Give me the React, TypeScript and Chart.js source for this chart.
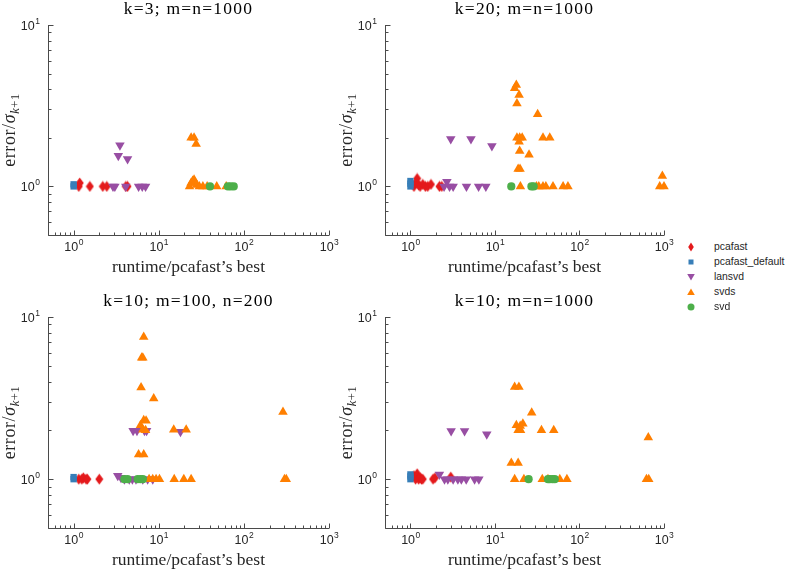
import React, { useEffect, useRef } from 'react';
import { Chart, registerables } from 'chart.js';
Chart.register(...registerables);

type Pt = [number, number];

const seriesNames = ['pcafast', 'pcafast_default', 'lansvd', 'svds', 'svd'];
const seriesColors = ['#E41A1C', '#377EB8', '#984EA3', '#FF7F00', '#4DAF4A'];
const panelTitles = ['k=3; m=n=1000', 'k=20; m=n=1000', 'k=10; m=100, n=200', 'k=10; m=n=1000'];
const xAxisTitle = 'runtime/pcafast\u2019s best';
const xMajorTicks = [1, 10, 100, 1000];
const xTickExponents = ['0', '1', '2', '3'];
const yMajorTicks = [1, 10];
const yTickExponents = ['0', '1'];
const xRange = [0.5, 1000];
const yRange = [0.5, 10];

// Panel 1: k=3; m=n=1000
const k3_pcafast: Pt[] = [[1.15, 1.0], [1.18, 1.05], [1.55, 1.0], [2.2, 1.0], [2.45, 1.0], [4.1, 1.0], [4.3, 1.0]];
const k3_default: Pt[] = [[1.0, 1.0], [1.0, 1.03]];
const k3_lansvd: Pt[] = [[2.9, 1.0], [3.05, 1.0], [3.5, 1.8], [3.35, 1.55], [4.3, 1.48], [4.1, 1.0], [5.8, 1.0], [6.4, 1.0], [7.0, 1.0]];
const k3_svds: Pt[] = [[24, 2.0], [26, 2.0], [27.5, 1.83], [23, 1.0], [24, 1.05], [25, 1.08], [26, 1.1], [27, 1.05], [28, 1.02], [30, 1.0], [33, 1.0], [37, 1.0], [48, 1.0], [62, 1.0]];
const k3_svd: Pt[] = [[40, 1.0], [65, 1.0], [70, 1.0], [76, 1.0]];

// Panel 2: k=20; m=n=1000
const k20_pcafast: Pt[] = [[1.1, 1.0], [1.15, 1.05], [1.2, 1.12], [1.25, 1.02], [1.3, 1.0], [1.4, 1.03], [1.5, 1.0], [1.6, 1.0], [1.75, 1.03], [2.2, 1.0], [2.35, 1.0]];
const k20_default: Pt[] = [[1.0, 1.0], [1.0, 1.04], [1.0, 1.08]];
const k20_lansvd: Pt[] = [[3.0, 1.97], [5.2, 1.97], [9.2, 1.78], [2.5, 1.0], [2.7, 1.07], [2.9, 1.0], [3.2, 1.0], [4.6, 1.0], [6.4, 1.0], [7.8, 1.0]];
const k20_svds: Pt[] = [[17.1, 4.06], [17.9, 4.25], [19.3, 3.69], [18.2, 3.26], [32, 2.8], [18.2, 2.0], [19.6, 2.0], [21, 2.0], [19.3, 1.89], [19.6, 1.66], [25.3, 1.57], [18.8, 1.28], [19.8, 1.28], [37, 2.0], [44.5, 2.0], [20, 1.0], [31, 1.0], [33, 1.0], [37, 1.0], [40, 1.0], [48.6, 1.0], [64, 1.0], [73, 1.0], [956, 1.16], [890, 1.0], [1000, 1.0]];
const k20_svd: Pt[] = [[15.6, 1.0], [27, 1.0], [28.7, 1.0]];

// Panel 3: k=10; m=100, n=200
const k10s_pcafast: Pt[] = [[1.15, 1.0], [1.25, 1.0], [1.3, 1.02], [1.4, 1.0], [1.45, 1.0], [2.0, 1.0]];
const k10s_default: Pt[] = [[1.0, 1.0], [1.0, 1.03]];
const k10s_lansvd: Pt[] = [[3.3, 1.05], [3.6, 1.02], [3.95, 1.0], [4.5, 1.0], [4.9, 1.0], [5.4, 1.0], [6.5, 1.0], [7.4, 1.0], [8.5, 1.0], [5.0, 1.99], [5.55, 1.99], [6.8, 1.99], [7.2, 1.99], [18, 1.96]];
const k10s_svds: Pt[] = [[6.66, 7.53], [6.3, 5.6], [6.5, 5.6], [6.2, 3.67], [8.73, 3.14], [6.66, 2.31], [7.1, 2.29], [6.1, 2.15], [6.5, 2.02], [7.0, 2.0], [5.8, 1.42], [6.66, 1.42], [15, 2.02], [21, 2.02], [288, 2.6], [7.7, 1.0], [8.5, 1.0], [9.3, 1.0], [10.2, 1.0], [15.2, 1.0], [19.7, 1.0], [24, 1.0], [300, 1.0], [315, 1.0]];
const k10s_svd: Pt[] = [[3.95, 1.0], [4.3, 1.0], [5.65, 1.0], [6.1, 1.0], [6.5, 1.0]];

// Panel 4: k=10; m=n=1000
const k10_pcafast: Pt[] = [[1.1, 1.05], [1.15, 1.0], [1.2, 1.08], [1.25, 1.0], [1.3, 1.02], [1.35, 1.0], [1.4, 1.0], [1.85, 1.0], [1.95, 1.02], [3.0, 1.03]];
const k10_default: Pt[] = [[1.0, 1.0], [1.0, 1.04], [1.0, 1.07]];
const k10_lansvd: Pt[] = [[3.03, 1.98], [4.37, 1.98], [8.0, 1.89], [2.2, 1.07], [2.53, 1.0], [2.77, 1.0], [3.2, 1.0], [3.64, 1.0], [4.0, 1.0], [4.57, 1.0], [5.74, 1.0], [6.45, 1.0]];
const k10_svds: Pt[] = [[17.1, 3.7], [19.2, 3.7], [27.2, 2.57], [17.9, 2.15], [19.9, 2.13], [21.4, 2.2], [18.8, 2.0], [20.1, 2.0], [35.5, 2.0], [49.6, 2.0], [15.6, 1.26], [18.8, 1.26], [652, 1.81], [17.1, 1.0], [22, 1.0], [36.3, 1.0], [42.4, 1.0], [58.5, 1.0], [71, 1.0], [620, 1.0], [660, 1.0]];
const k10_svd: Pt[] = [[25, 1.0], [42.4, 1.0], [44.5, 1.0], [48, 1.0], [51, 1.0]];

const panelData: Pt[][][] = [
  [k3_pcafast, k3_default, k3_lansvd, k3_svds, k3_svd],
  [k20_pcafast, k20_default, k20_lansvd, k20_svds, k20_svd],
  [k10s_pcafast, k10s_default, k10s_lansvd, k10s_svds, k10s_svd],
  [k10_pcafast, k10_default, k10_lansvd, k10_svds, k10_svd],
];

// plot-area boxes in page pixels
const panelBoxes = [
  { l: 48, t: 25, r: 329, b: 235 },
  { l: 385, t: 25, r: 664, b: 235 },
  { l: 48, t: 317, r: 329, b: 528 },
  { l: 385, t: 317, r: 664, b: 528 },
];
const PAD = { left: 48, top: 25, right: 20, bottom: 48 };

const AXIS_COLOR = '#4a4a4a';
const TEXT_COLOR = '#262626';
const SERIF = '"Liberation Serif", "Times New Roman", serif';
const SANS = '"Liberation Sans", Arial, sans-serif';

function minorTicks(lo: number, hi: number): number[] {
  const out: number[] = [];
  for (let d = 0.1; d <= hi; d *= 10) {
    for (let m = 2; m <= 9; m++) {
      const v = +(m * d).toPrecision(6);
      if (v >= lo && v <= hi) out.push(v);
    }
  }
  return out;
}

function makeDiamond(color: string): HTMLCanvasElement {
  const c = document.createElement('canvas');
  c.width = 9;
  c.height = 12;
  const g = c.getContext('2d')!;
  g.fillStyle = color;
  g.beginPath();
  g.moveTo(4.5, 0.5);
  g.lineTo(8.5, 6);
  g.lineTo(4.5, 11.5);
  g.lineTo(0.5, 6);
  g.closePath();
  g.fill();
  return c;
}

function makeAxesPlugin(title: string) {
  return {
    id: 'matlabAxes',
    beforeDatasetsDraw(chart: any) {
      const { ctx, chartArea: a, scales } = chart;
      const xs = scales.x;
      const ys = scales.y;
      ctx.save();
      const L = Math.round(a.left) + 0.5;
      const B = Math.round(a.bottom) + 0.5;
      ctx.strokeStyle = AXIS_COLOR;
      ctx.lineWidth = 1;
      ctx.beginPath();
      ctx.moveTo(L, a.top);
      ctx.lineTo(L, B);
      ctx.lineTo(a.right, B);
      // x ticks (inside)
      for (const v of minorTicks(xRange[0], xRange[1])) {
        const p = Math.round(xs.getPixelForValue(v)) + 0.5;
        ctx.moveTo(p, B);
        ctx.lineTo(p, B - 3);
      }
      for (const v of xMajorTicks) {
        const p = Math.round(xs.getPixelForValue(v)) + 0.5;
        ctx.moveTo(p, B);
        ctx.lineTo(p, B - 5);
      }
      for (const v of minorTicks(yRange[0], yRange[1])) {
        const p = Math.round(ys.getPixelForValue(v)) + 0.5;
        ctx.moveTo(L, p);
        ctx.lineTo(L + 3, p);
      }
      for (const v of yMajorTicks) {
        const p = Math.round(ys.getPixelForValue(v)) + 0.5;
        ctx.moveTo(L, p);
        ctx.lineTo(L + 5, p);
      }
      ctx.stroke();

      // tick labels
      ctx.fillStyle = TEXT_COLOR;
      ctx.textBaseline = 'alphabetic';
      ctx.textAlign = 'left';
      const baseFont = `12.5px ${SANS}`;
      const supFont = `8.5px ${SANS}`;
      xMajorTicks.forEach((v, i) => {
        const p = xs.getPixelForValue(v);
        ctx.font = baseFont;
        const wb = ctx.measureText('10').width;
        ctx.font = supFont;
        const ws = ctx.measureText(xTickExponents[i]).width;
        const x0 = p - (wb + ws) / 2;
        ctx.font = baseFont;
        ctx.fillText('10', x0, a.bottom + 16);
        ctx.font = supFont;
        ctx.fillText(xTickExponents[i], x0 + wb + 0.5, a.bottom + 10);
      });
      yMajorTicks.forEach((v, i) => {
        const p = ys.getPixelForValue(v);
        ctx.font = supFont;
        const ws = ctx.measureText(yTickExponents[i]).width;
        ctx.font = baseFont;
        const wb = ctx.measureText('10').width;
        const right = a.left - 8;
        ctx.fillText('10', right - ws - 0.5 - wb, p + 4.5);
        ctx.font = supFont;
        ctx.fillText(yTickExponents[i], right - ws, p - 1.5);
      });

      // title
      ctx.fillStyle = '#000';
      ctx.font = `17.5px ${SERIF}`;
      (ctx as any).letterSpacing = '1.2px';
      ctx.textAlign = 'center';
      ctx.fillText(title, (a.left + a.right) / 2, a.top - 11);

      // x title
      ctx.fillStyle = TEXT_COLOR;
      (ctx as any).letterSpacing = '0px';
      ctx.font = `17.5px ${SERIF}`;
      ctx.fillText(xAxisTitle, (a.left + a.right) / 2, a.bottom + 37);

      // y title: error/σ_{k+1}
      const segs = [
        { t: 'error/', f: `18px ${SERIF}`, dy: 0 },
        { t: '\u03C3', f: `italic 18px ${SERIF}`, dy: 0 },
        { t: 'k', f: `italic 12.5px ${SERIF}`, dy: 4 },
        { t: '+1', f: `12.5px ${SERIF}`, dy: 4 },
      ];
      (ctx as any).letterSpacing = '0.6px';
      let total = 0;
      const widths = segs.map((s) => {
        ctx.font = s.f;
        const w = ctx.measureText(s.t).width;
        total += w;
        return w;
      });
      ctx.translate(a.left - 33, (a.top + a.bottom) / 2);
      ctx.rotate(-Math.PI / 2);
      ctx.textAlign = 'left';
      let cx = -total / 2;
      segs.forEach((s, i) => {
        ctx.font = s.f;
        ctx.fillText(s.t, cx, s.dy);
        cx += widths[i];
      });
      ctx.restore();
    },
  };
}

function Panel({ index }: { index: number }) {
  const ref = useRef<HTMLCanvasElement>(null);
  const box = panelBoxes[index];
  const left = box.l - PAD.left;
  const top = box.t - PAD.top;
  const width = box.r - box.l + PAD.left + PAD.right;
  const height = box.b - box.t + PAD.top + PAD.bottom;

  useEffect(() => {
    const canvas = ref.current;
    if (!canvas) return;
    const diamond = makeDiamond(seriesColors[0]);
    const styles: any[] = [diamond, 'rect', 'triangle', 'triangle', 'circle'];
    const radii = [4.5, 4.5, 5.5, 5.5, 4.1];
    const rotations = [0, 0, 180, 0, 0];
    const chart = new Chart(canvas, {
      type: 'scatter',
      data: {
        datasets: seriesNames.map((name, i) => ({
          label: name,
          data: panelData[index][i].map(([x, y]) => ({ x, y })),
          pointStyle: styles[i],
          pointRadius: radii[i],
          pointRotation: rotations[i],
          pointBackgroundColor: seriesColors[i],
          pointBorderColor: seriesColors[i],
          pointBorderWidth: 0,
          backgroundColor: seriesColors[i],
          borderColor: seriesColors[i],
          order: 4 - i,
          clip: false as any,
        })),
      },
      options: {
        responsive: false,
        animation: false,
        events: [],
        layout: { padding: { left: PAD.left, top: PAD.top, right: PAD.right, bottom: PAD.bottom } },
        plugins: {
          legend: { display: false },
          tooltip: { enabled: false },
          title: { display: false },
        },
        scales: {
          x: { type: 'logarithmic', min: xRange[0], max: xRange[1], display: false },
          y: { type: 'logarithmic', min: yRange[0], max: yRange[1], display: false },
        },
      },
      plugins: [makeAxesPlugin(panelTitles[index])],
    });
    return () => chart.destroy();
  }, [index]);

  return (
    <canvas
      ref={ref}
      width={width}
      height={height}
      style={{ position: 'absolute', left, top, width, height }}
    />
  );
}

function LegendMarker({ i }: { i: number }) {
  const c = seriesColors[i];
  let shape: React.ReactNode = null;
  if (i === 0) shape = <polygon points="6,1.5 8.8,6 6,10.5 3.2,6" fill={c} />;
  else if (i === 1) shape = <rect x={3.5} y={3.5} width={5} height={5} fill={c} />;
  else if (i === 2) shape = <polygon points="2.2,3 9.8,3 6,9.5" fill={c} />;
  else if (i === 3) shape = <polygon points="6,2.5 9.8,9 2.2,9" fill={c} />;
  else shape = <circle cx={6} cy={6} r={3.5} fill={c} />;
  return (
    <svg width={12} height={12} style={{ position: 'absolute', left: 0, top: 0 }}>
      {shape}
    </svg>
  );
}

const legendRowY = [247, 261.5, 276.5, 292, 307];

export default function App() {
  return (
    <div
      style={{
        position: 'absolute',
        left: 0,
        top: 0,
        width: 788,
        height: 572,
        overflow: 'hidden',
        background: '#fff',
      }}
    >
      {[0, 1, 2, 3].map((i) => (
        <Panel key={i} index={i} />
      ))}
      {seriesNames.map((name, i) => (
        <div key={name}>
          <div style={{ position: 'absolute', left: 685, top: legendRowY[i] - 6, width: 12, height: 12 }}>
            <LegendMarker i={i} />
          </div>
          <div
            style={{
              position: 'absolute',
              left: 714,
              top: legendRowY[i] - 7,
              fontFamily: SANS,
              fontSize: 10.4,
              lineHeight: '14px',
              color: TEXT_COLOR,
              whiteSpace: 'nowrap',
            }}
          >
            {name}
          </div>
        </div>
      ))}
    </div>
  );
}
